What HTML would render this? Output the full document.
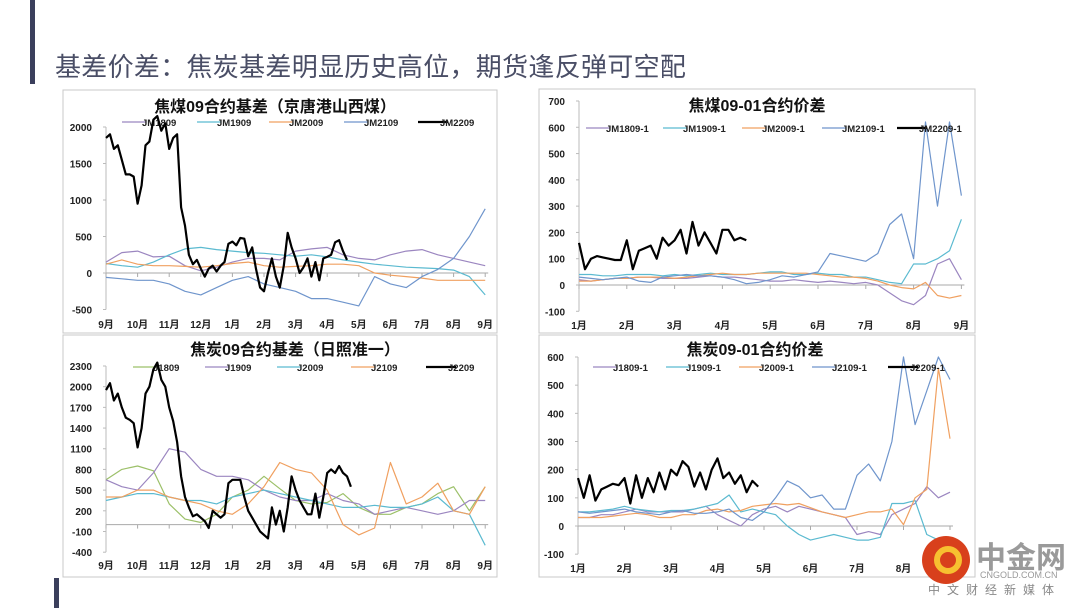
<!DOCTYPE html>
<html><head><meta charset="utf-8">
<style>
body{margin:0;width:1080px;height:608px;background:#fff;overflow:hidden;position:relative;font-family:"Liberation Sans","Noto Sans CJK SC",sans-serif;}
#bar1{position:absolute;left:30px;top:0;width:5px;height:84px;background:#3b3f5c;}
#bar2{position:absolute;left:54px;top:578px;width:5px;height:30px;background:#3b3f5c;}
#title{position:absolute;left:55px;top:47px;font-size:26px;color:#4a4e66;font-family:"Liberation Sans","Noto Sans CJK SC",sans-serif;letter-spacing:0.3px;}
svg{position:absolute;left:0;top:0;}
</style></head><body>
<div id="bar1"></div>
<div id="bar2"></div>
<div id="title">基差价差：焦炭基差明显历史高位，期货逢反弹可空配</div>
<svg id="svg" width="1080" height="608"></svg>
<script>
// ---- Chart 1: 焦煤09合约基差 (months from Sep, step 0.5 / black step 0.125)
const c1Months=['9月','10月','11月','12月','1月','2月','3月','4月','5月','6月','7月','8月','9月'];
const c1Ticks=[2000,1500,1000,500,0,-500];
const c1JM1809=[150,280,300,220,230,100,30,80,150,200,200,180,300,330,350,250,200,180,250,300,320,250,200,150,100];
const c1JM1909=[130,100,80,150,250,330,350,320,300,280,270,250,230,250,220,180,150,120,100,80,70,60,40,-50,-300];
const c1JM2009=[120,180,120,100,100,90,80,100,130,150,100,80,90,100,120,120,100,0,-30,-50,-70,-100,-100,-100,-100];
const c1JM2109=[-60,-80,-100,-100,-150,-250,-300,-200,-100,-50,-150,-200,-250,-350,-350,-400,-450,-50,-150,-200,-50,50,200,500,880];
const c1JM2209=[1850,1900,1700,1750,1550,1350,1350,1320,950,1200,1750,1800,2100,2150,1950,2050,1700,1850,1900,900,650,250,120,180,60,-50,60,100,20,100,150,400,430,380,480,470,230,350,50,-200,-250,0,200,-50,-200,100,550,350,200,0,80,200,-50,150,-100,200,220,250,420,450,300,180];
// ---- Chart 2: 焦煤09-01合约价差 (months from Jan, step 0.25 / black 0.125)
const c2Months=['1月','2月','3月','4月','5月','6月','7月','8月','9月'];
const c2Ticks=[700,600,500,400,300,200,100,0,-100];
const c2JM1809=[20,15,20,25,25,30,30,25,25,25,30,35,30,30,25,20,15,15,20,15,10,15,10,5,10,0,-30,-60,-75,-40,80,100,20];
const c2JM1909=[40,40,35,35,40,40,40,35,40,35,40,45,40,40,40,45,50,50,40,40,45,40,40,30,30,20,10,5,80,80,100,130,250];
const c2JM2009=[15,15,20,25,25,30,30,30,25,30,35,40,45,40,40,45,45,45,45,45,40,35,30,30,25,15,0,-10,-15,10,-40,-50,-40];
const c2JM2109=[30,25,20,25,30,15,10,30,35,40,35,35,30,20,5,10,20,35,30,40,50,120,110,100,90,120,230,270,100,620,300,620,340];
const c2JM2209=[160,60,100,110,105,100,95,95,170,60,130,140,150,100,180,150,170,210,120,240,150,200,160,120,210,210,170,180,170];
// ---- Chart 3: 焦炭09合约基差
const c3Ticks=[2300,2000,1700,1400,1100,800,500,200,-100,-400];
const c3J1809=[650,800,850,780,300,80,30,150,400,500,700,520,350,300,320,450,250,150,150,250,300,450,550,200,550];
const c3J1909=[650,550,500,750,1100,1050,800,700,700,650,500,400,350,350,450,350,300,150,200,250,200,150,200,350,350];
const c3J2009=[350,400,450,450,400,350,350,300,400,450,500,450,400,350,300,250,250,280,250,250,300,400,200,150,-300];
const c3J2109=[400,400,500,500,400,350,300,200,150,300,550,900,800,750,500,0,-150,-50,900,300,400,600,200,150,550];
const c3J2209=[1950,2050,1800,1900,1700,1550,1520,1470,1120,1400,1900,2000,2250,2350,2100,2000,1700,1500,1200,700,400,250,120,150,100,50,-50,200,150,100,150,600,650,650,650,400,200,100,0,-100,-150,-200,250,0,200,-100,250,700,500,350,250,150,150,450,100,400,750,800,750,850,750,700,550];
// ---- Chart 4: 焦炭09-01合约价差
const c4Months=['1月','2月','3月','4月','5月','6月','7月','8月',''];
const c4Ticks=[600,500,400,300,200,100,0,-100];
const c4J1809=[30,30,40,40,50,60,50,50,50,50,60,70,40,20,0,40,60,70,50,70,60,50,40,30,-30,-20,-30,40,60,80,140,100,120];
const c4J1909=[50,50,55,60,70,60,55,50,55,55,60,70,80,110,50,60,50,40,0,-30,-50,-40,-30,-40,-50,-50,-40,80,80,90,-30,-50,-60];
const c4J2009=[30,30,30,35,40,45,40,30,30,40,40,55,60,50,55,70,75,80,75,80,65,50,40,30,40,50,50,60,5,100,130,560,310];
const c4J2109=[50,45,50,55,60,50,45,40,50,55,45,45,50,60,30,20,50,100,160,140,100,110,60,60,180,220,160,300,600,360,480,600,520];
const c4J2209=[170,100,180,90,130,140,150,145,170,80,180,100,170,120,190,130,200,180,230,210,140,190,130,200,240,170,190,150,180,120,160,140];

const NS='http://www.w3.org/2000/svg';
const svg=document.getElementById('svg');
function el(tag,attrs,parent){const e=document.createElementNS(NS,tag);for(const k in attrs)e.setAttribute(k,attrs[k]);(parent||svg).appendChild(e);return e;}

function chart(cfg){
  const g=el('g',{});
  
  
  const box=el('rect',{x:cfg.box[0],y:cfg.box[1],width:cfg.box[2],height:cfg.box[3],fill:'#fff',stroke:'#c8c8c8','stroke-width':1},g);
  
  
  const yS=v=>cfg.y0+(v-cfg.v0)*(cfg.y1-cfg.y0)/(cfg.v1-cfg.v0);
  const xS=t=>cfg.x0+t*cfg.mw;
  const nM=cfg.months.length-1;
  const ya=el('line',{x1:cfg.x0,x2:cfg.x0,y1:yS(cfg.ticks[0]),y2:yS(cfg.ticks[cfg.ticks.length-1]),stroke:'#bbb'},g);
  
  
  const xa=el('line',{x1:cfg.x0,x2:xS(nM)+3,y1:yS(0),y2:yS(0),stroke:'#aaa'},g);
  
  
  cfg.ticks.forEach(v=>{
    el('line',{x1:cfg.x0-3,x2:cfg.x0,y1:yS(v),y2:yS(v),stroke:'#bbb'},g);
    const t=el('text',{x:cfg.x0-14,y:yS(v)+4,'text-anchor':'end','font-size':10,'font-weight':'bold',fill:'#222'},g);
    t.textContent=v;
    
    
  });
  cfg.months.forEach((m,i)=>{
    el('line',{x1:xS(i),x2:xS(i),y1:yS(0),y2:yS(0)+4,stroke:'#aaa'},g);
    const t=el('text',{x:xS(i),y:cfg.labY,'text-anchor':'middle','font-size':10,'font-weight':'bold',fill:'#222'},g);
    t.textContent=m;
    
    
  });
  const tt=el('text',{x:cfg.title[0],y:cfg.title[1],'text-anchor':'middle','font-size':16,'font-weight':'bold',fill:'#111'},g);
  tt.textContent=cfg.title[2];
  
  
  cfg.series.forEach((s,si)=>{
    const pts=s.data.map((v,i)=>xS(i*s.step).toFixed(1)+','+yS(v).toFixed(1)).join(' ');
    const p=el('polyline',{points:pts,fill:'none',stroke:s.color,'stroke-width':s.w,'stroke-linejoin':'round'},g);
    
    
    const lx=cfg.legX[si];
    const ll=el('line',{x1:lx,x2:lx+(s.w>1.5?30:24),y1:cfg.legY,y2:cfg.legY,stroke:s.color,'stroke-width':s.w},g);
    
    
    const lt=el('text',{x:lx+(s.w>1.5?22:20),y:cfg.legY+4,'font-size':9.5,'font-weight':'bold',fill:'#222'},g);
    lt.textContent=s.label;
    
    
  });
}
const P='#9b86c0',C='#5bbad0',O='#f0a060',B='#6f95cc',K='#000',G='#9cc069';
chart({name:'coking-coal-basis-chart',box:[63,90,434,243],x0:106,mw:31.6,y0:273,v0:0,y1:127,v1:2000,ticks:c1Ticks,months:c1Months,labY:328,
 title:[275,112,'焦煤09合约基差（京唐港山西煤）'],legY:122,legX:[122,197,269,344,418],
 series:[{label:'JM1809',data:c1JM1809,step:0.5,color:P,w:1.2},{label:'JM1909',data:c1JM1909,step:0.5,color:C,w:1.2},{label:'JM2009',data:c1JM2009,step:0.5,color:O,w:1.2},{label:'JM2109',data:c1JM2109,step:0.5,color:B,w:1.2},{label:'JM2209',data:c1JM2209,step:0.125,color:K,w:2.2}]});
chart({name:'coking-coal-spread-chart',box:[539,89,436,244],x0:579,mw:47.8,y0:285,v0:0,y1:101,v1:700,ticks:c2Ticks,months:c2Months,labY:329,
 title:[757,111,'焦煤09-01合约价差'],legY:128,legX:[586,663,742,822,897],
 series:[{label:'JM1809-1',data:c2JM1809,step:0.25,color:P,w:1.2},{label:'JM1909-1',data:c2JM1909,step:0.25,color:C,w:1.2},{label:'JM2009-1',data:c2JM2009,step:0.25,color:O,w:1.2},{label:'JM2109-1',data:c2JM2109,step:0.25,color:B,w:1.2},{label:'JM2209-1',data:c2JM2209,step:0.125,color:K,w:2.2}]});
chart({name:'coke-basis-chart',box:[63,335,434,242],x0:106,mw:31.6,y0:524.6,v0:0,y1:366,v1:2300,ticks:c3Ticks,months:c1Months,labY:569,
 title:[295,355,'焦炭09合约基差（日照准一）'],legY:367,legX:[133,205,277,351,426],
 series:[{label:'J1809',data:c3J1809,step:0.5,color:G,w:1.2},{label:'J1909',data:c3J1909,step:0.5,color:P,w:1.2},{label:'J2009',data:c3J2009,step:0.5,color:C,w:1.2},{label:'J2109',data:c3J2109,step:0.5,color:O,w:1.2},{label:'J2209',data:c3J2209,step:0.125,color:K,w:2.2}]});
chart({name:'coke-spread-chart',box:[539,335,436,242],x0:578,mw:46.5,y0:526,v0:0,y1:357,v1:600,ticks:c4Ticks,months:c4Months,labY:572,
 title:[755,355,'焦炭09-01合约价差'],legY:367,legX:[593,666,739,812,888],
 series:[{label:'J1809-1',data:c4J1809,step:0.25,color:P,w:1.2},{label:'J1909-1',data:c4J1909,step:0.25,color:C,w:1.2},{label:'J2009-1',data:c4J2009,step:0.25,color:O,w:1.2},{label:'J2109-1',data:c4J2109,step:0.25,color:B,w:1.2},{label:'J2209-1',data:c4J2209,step:0.125,color:K,w:2.2}]});
</script>
<svg width="180" height="88" style="left:900px;top:520px">
 <circle cx="46" cy="40" r="24" fill="#d8401c"/>
 <circle cx="48" cy="40" r="11" fill="none" stroke="#f7c030" stroke-width="6"/>
 <text x="76" y="48" font-size="30" font-weight="bold" fill="#9a9a9a" font-family="Liberation Sans,Noto Sans CJK SC,sans-serif">中金网</text>
 <text x="80" y="58" font-size="9" fill="#999">CNGOLD.COM.CN</text>
 <text x="28" y="74" font-size="12" fill="#888" letter-spacing="7" font-family="Liberation Sans,Noto Sans CJK SC,sans-serif">中文财经新媒体</text>
</svg>
</body></html>
